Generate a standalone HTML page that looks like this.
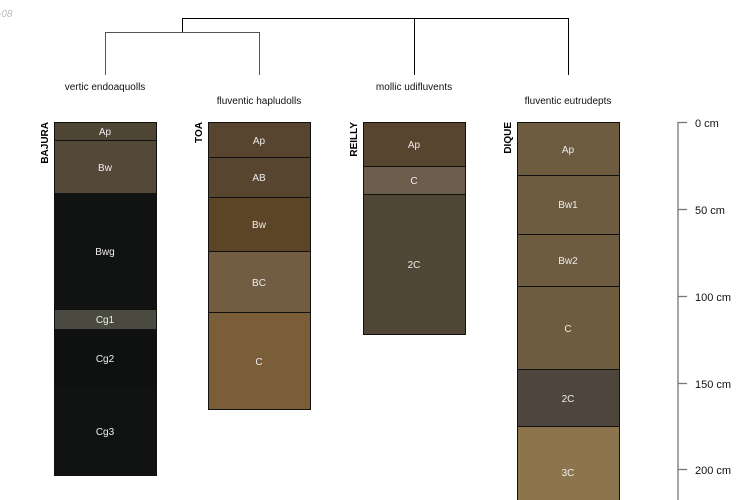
<!DOCTYPE html>
<html><head><meta charset="utf-8"><style>
html,body{margin:0;padding:0;background:#fff;}
svg{display:block;font-family:"Liberation Sans",sans-serif;}
</style></head><body>
<svg width="750" height="500" viewBox="0 0 750 500" xmlns="http://www.w3.org/2000/svg">
<text x="-2" y="17" font-size="10" font-style="italic" fill="#bbb">-08</text>
<g stroke="#000" stroke-width="1" fill="none">
<path d="M182.5 32V18.5H568.5V75"/>
<path d="M414.5 18.5V75"/>
</g>
<g stroke="#555" stroke-width="1" fill="none">
<path d="M105.5 75V32.5H259.5V75"/>
</g>
<g font-size="10" fill="#111" text-anchor="middle">
<text x="105" y="90">vertic endoaquolls</text>
<text x="259" y="104">fluventic hapludolls</text>
<text x="414" y="90">mollic udifluvents</text>
<text x="568" y="104">fluventic eutrudepts</text>
</g>
<g stroke="#111" stroke-width="1">
<!-- BAJURA -->
<rect x="54.5" y="122.5" width="102" height="18" fill="#4f4535"/>
<rect x="54.5" y="140.5" width="102" height="53" fill="#544838"/>
<rect x="54.5" y="193.5" width="102" height="116" fill="#111312"/>
<rect x="54.5" y="309.5" width="102" height="20" fill="#4a4a40"/>
<rect x="54.5" y="329.5" width="102" height="58" fill="#0f1110"/>
<rect x="54.5" y="387.5" width="102" height="88" fill="#111312"/>
<!-- TOA -->
<rect x="208.5" y="122.5" width="102" height="35" fill="#574530"/>
<rect x="208.5" y="157.5" width="102" height="40" fill="#574530"/>
<rect x="208.5" y="197.5" width="102" height="54" fill="#5c4426"/>
<rect x="208.5" y="251.5" width="102" height="61" fill="#725c42"/>
<rect x="208.5" y="312.5" width="102" height="97" fill="#7a5e3a"/>
<!-- REILLY -->
<rect x="363.5" y="122.5" width="102" height="44" fill="#574530"/>
<rect x="363.5" y="166.5" width="102" height="28" fill="#6b5c4b"/>
<rect x="363.5" y="194.5" width="102" height="140" fill="#4f4636"/>
<!-- DIQUE -->
<rect x="517.5" y="122.5" width="102" height="53" fill="#6e5c40"/>
<rect x="517.5" y="175.5" width="102" height="59" fill="#6e5c40"/>
<rect x="517.5" y="234.5" width="102" height="52" fill="#6e5c40"/>
<rect x="517.5" y="286.5" width="102" height="83" fill="#6e5c3e"/>
<rect x="517.5" y="369.5" width="102" height="57" fill="#4e453c"/>
<rect x="517.5" y="426.5" width="102" height="80" fill="#8c744c"/>
</g>
<g font-size="10" fill="#eee" text-anchor="middle">
<text x="105" y="135">Ap</text><text x="105" y="171">Bw</text><text x="105" y="255">Bwg</text>
<text x="105" y="323">Cg1</text><text x="105" y="362">Cg2</text><text x="105" y="435">Cg3</text>
<text x="259" y="144">Ap</text><text x="259" y="181">AB</text><text x="259" y="228">Bw</text>
<text x="259" y="286">BC</text><text x="259" y="365">C</text>
<text x="414" y="148">Ap</text><text x="414" y="184">C</text><text x="414" y="268">2C</text>
<text x="568" y="153">Ap</text><text x="568" y="208">Bw1</text><text x="568" y="264">Bw2</text>
<text x="568" y="332">C</text><text x="568" y="402">2C</text><text x="568" y="476">3C</text>
</g>
<g font-size="10" font-weight="bold" fill="#000" text-anchor="end">
<text transform="translate(48,122) rotate(-90)">BAJURA</text>
<text transform="translate(202,122) rotate(-90)">TOA</text>
<text transform="translate(357,122) rotate(-90)">REILLY</text>
<text transform="translate(511,122) rotate(-90)">DIQUE</text>
</g>
<g stroke="#777" stroke-width="1.3">
<line x1="678" y1="122" x2="678" y2="500"/>
<line x1="678" y1="122.5" x2="687" y2="122.5"/>
<line x1="678" y1="209.5" x2="687" y2="209.5"/>
<line x1="678" y1="296.5" x2="687" y2="296.5"/>
<line x1="678" y1="383.5" x2="687" y2="383.5"/>
<line x1="678" y1="469.5" x2="687" y2="469.5"/>
</g>
<g font-size="11" fill="#111">
<text x="695" y="127">0 cm</text>
<text x="695" y="214">50 cm</text>
<text x="695" y="301">100 cm</text>
<text x="695" y="388">150 cm</text>
<text x="695" y="474">200 cm</text>
</g>
</svg>
</body></html>
